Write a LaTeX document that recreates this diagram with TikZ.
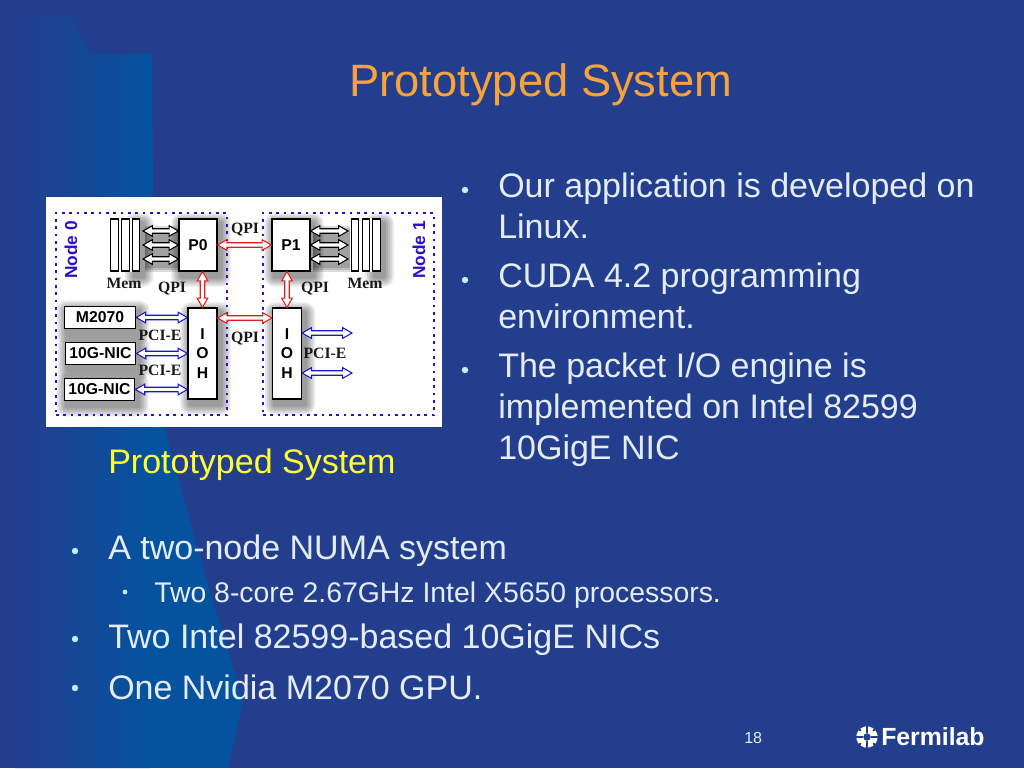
\documentclass[tikz,border=0pt]{standalone}
\usepackage{fontspec}
\setmainfont{Liberation Sans}
\newfontfamily\serifbold{Liberation Serif}
\usetikzlibrary{calc}
\pgfdeclarelayer{panel}
\pgfdeclarelayer{shadowlayer}
\pgfsetlayers{panel,shadowlayer,main}
\definecolor{bgblue}{HTML}{243E8E}
\definecolor{lightblue}{HTML}{05529F}
\definecolor{bodytext}{HTML}{E4ECF6}
\definecolor{bulletc}{HTML}{BFEFFF}
\definecolor{titlec}{HTML}{F8A23C}
\definecolor{capc}{HTML}{FFFF33}
\definecolor{nodeblue}{HTML}{2A10C8}
\definecolor{linkred}{HTML}{E02020}
\definecolor{linkblue}{HTML}{1818C8}
\newcommand{\fs}[1]{\fontsize{#1}{#1}\selectfont}
\tikzset{
  x=0.75pt,y=-0.75pt,
  body/.style={anchor=base west,inner sep=0pt,text=bodytext,font=\fs{25.5}},
  subbody/.style={anchor=base west,inner sep=0pt,text=bodytext,font=\fs{21.3}},
  dot/.style={circle,fill=bulletc,inner sep=0pt,minimum size=4.8pt},
  smalldot/.style={circle,fill=bulletc,inner sep=0pt,minimum size=3.6pt},
  box/.style={draw=black,line width=0.85pt,fill=white,inner sep=0pt,font=\bfseries\fs{11.8},align=center},
  bar/.style={draw=black,line width=0.85pt,fill=white,inner sep=0pt,minimum width=5.6pt,minimum height=39pt},
  lbl/.style={inner sep=0pt,font=\serifbold\bfseries\fs{11.8},text=black!90},
  nodelbl/.style={inner sep=0pt,rotate=90,font=\bfseries\fs{13},text=nodeblue},
  region/.style={draw=nodeblue,line width=1.1pt,dash pattern=on 2pt off 3.5pt},
  hollow/.style={fill=white,line width=0.8pt,line join=miter,to path={
    -- ($(\tikztostart)!7pt!(\tikztotarget)!4pt!90:(\tikztotarget)$)
    -- ($(\tikztostart)!7pt!(\tikztotarget)!1.7pt!90:(\tikztotarget)$)
    -- ($(\tikztotarget)!7pt!(\tikztostart)!1.7pt!-90:(\tikztostart)$)
    -- ($(\tikztotarget)!7pt!(\tikztostart)!4pt!-90:(\tikztostart)$)
    -- (\tikztotarget)
    -- ($(\tikztotarget)!7pt!(\tikztostart)!4pt!90:(\tikztostart)$)
    -- ($(\tikztotarget)!7pt!(\tikztostart)!1.7pt!90:(\tikztostart)$)
    -- ($(\tikztostart)!7pt!(\tikztotarget)!1.7pt!-90:(\tikztotarget)$)
    -- ($(\tikztostart)!7pt!(\tikztotarget)!4pt!-90:(\tikztotarget)$)
    -- cycle}},
  memlink/.style={hollow,draw=black},
  qpilink/.style={hollow,draw=linkred},
  pcilink/.style={hollow,draw=linkblue},
}
\newcommand{\softshadow}[1]{%
  \begin{pgfonlayer}{shadowlayer}
  \foreach \r in {10,8,6,4,2}{
    \fill[black,opacity=0.09,rounded corners=\r*0.75pt]
      ($(#1.north west)+(3-\r,5-\r)$) rectangle ($(#1.south east)+(3+\r,5+\r)$);
  }
  \end{pgfonlayer}}
\newcommand{\linkshadow}[2]{%
  \begin{pgfonlayer}{shadowlayer}
  \foreach \w in {18,14,10}{
    \draw[black,opacity=0.14,line width=\w*0.75pt] ($(#1)+(2,4)$) -- ($(#2)+(2,4)$);
  }
  \end{pgfonlayer}}
\begin{document}
\begin{tikzpicture}
\useasboundingbox (0,0) rectangle (1024,768);
\begin{pgfonlayer}{panel}
\fill[bgblue] (0,0) rectangle (1024,768);
\begin{scope}
  \clip (0,15) -- (70,15) -- (90,54) -- (152,54) -- (153,197) -- (165,430) -- (203,568) -- (243,700) -- (228,768) -- (0,768) -- cycle;
  \shade[left color=bgblue,right color=lightblue] (15,0) rectangle (150,768);
  \fill[lightblue] (149.5,0) rectangle (260,768);
\end{scope}
\fill[white] (46,197) rectangle (442,427);
\end{pgfonlayer}

% slide text
\node[anchor=base west,inner sep=0pt,text=titlec,font=\fs{34}] (title) at (349,96) {Prototyped System};

\node[dot] (b1) at (465,190) {};
\node[body] (t1a) at (498,197.5) {Our application is developed on};
\node[body] (t1b) at (498,238.5) {Linux.};
\node[dot] (b2) at (465,280) {};
\node[body] (t2a) at (498,287.5) {CUDA 4.2 programming};
\node[body] (t2b) at (498,328.5) {environment.};
\node[dot] (b3) at (465,370) {};
\node[body] (t3a) at (498,377.5) {The packet I/O engine is};
\node[body] (t3b) at (498,418.5) {implemented on Intel 82599};
\node[body] (t3c) at (498,459.5) {10GigE NIC};

\node[anchor=base west,inner sep=0pt,text=capc,font=\fs{25.5}] (cap) at (108,473.5) {Prototyped System};

\node[dot] (b4) at (75,551) {};
\node[body] (t4) at (108,559.5) {A two-node NUMA system};
\node[smalldot] (b5) at (125,592) {};
\node[subbody] (t5) at (154,602) {Two 8-core 2.67GHz Intel X5650 processors.};
\node[dot] (b6) at (75,639) {};
\node[body] (t6) at (108,648.5) {Two Intel 82599-based 10GigE NICs};
\node[dot] (b7) at (75,688) {};
\node[body] (t7) at (108,699.5) {One Nvidia M2070 GPU.};

\node[anchor=base west,inner sep=0pt,text=bodytext,font=\fs{12}] (page) at (744,743) {18};
\node[anchor=base west,inner sep=0pt,text=white,font=\bfseries\fs{18.6}] (lab) at (881,745) {Fermilab};
% logo
\coordinate (logo) at (867,737);
\foreach \a in {22.5,67.5,...,360}{
  \draw[white,line width=4pt] ($(logo)+(\a:6)$) -- ($(logo)+(\a:10.5)$);
}
\fill[white] (logo) circle[radius=6.4pt];
\draw[bgblue,line width=1pt] ($(logo)+(-12,0)$) -- ($(logo)+(-4,0)$) ($(logo)+(12,0)$) -- ($(logo)+(4,0)$)
  ($(logo)+(0,-12)$) -- ($(logo)+(0,-4)$) ($(logo)+(0,12)$) -- ($(logo)+(0,4)$);
\fill[bgblue] (logo) circle[radius=2.8pt];

% diagram regions
\node[region,minimum width=128.25pt,minimum height=151.5pt,inner sep=0pt] (node0) at (141.5,314) {};
\node[region,minimum width=128.25pt,minimum height=151.5pt,inner sep=0pt] (node1) at (348.5,314) {};
\node[nodelbl] (n0) at (71,250) {Node 0};
\node[nodelbl] (n1) at (419,250) {Node 1};

% boxes
\node[box,minimum width=28.5pt,minimum height=39pt] (P0) at (198,245) {P0};
\node[box,minimum width=28.5pt,minimum height=39pt] (P1) at (291,245) {P1};
\node[box,minimum width=21.8pt,minimum height=68.2pt] (IOH0) at (202.5,353.5) {I\\[3pt]O\\[3pt]H};
\node[box,minimum width=21.8pt,minimum height=68.2pt] (IOH1) at (287,353.5) {I\\[3pt]O\\[3pt]H};
\node[box,minimum width=53.5pt,minimum height=17pt] (gpu) at (100,317.5) {M2070};
\node[box,minimum width=53pt,minimum height=17pt] (nic1) at (100.5,353.5) {10G-NIC};
\node[box,minimum width=53pt,minimum height=17pt] (nic2) at (99.5,389.5) {10G-NIC};
\node[bar] (m01) at (114.5,245) {};
\node[bar] (m02) at (125.5,245) {};
\node[bar] (m03) at (136,245) {};
\node[bar] (m11) at (355,245) {};
\node[bar] (m12) at (366,245) {};
\node[bar] (m13) at (376.5,245) {};
\foreach \n in {P0,P1,IOH0,IOH1,gpu,nic1,nic2,m03,m13}{\softshadow{\n}}

% ends of the links
\coordinate (r1) at (352,333);
\coordinate (r2) at (352,373);
\coordinate (l0a) at (143,231); \coordinate (p0a) at (P0.west |- l0a);
\coordinate (l0b) at (143,245);
\coordinate (l0c) at (143,259); \coordinate (p0c) at (P0.west |- l0c);
\coordinate (l1a) at (348,231); \coordinate (p1a) at (P1.east |- l1a);
\coordinate (l1b) at (348,245);
\coordinate (l1c) at (348,259); \coordinate (p1c) at (P1.east |- l1c);
\coordinate (qa) at (IOH0.east |- 0,318); \coordinate (qb) at (IOH1.west |- 0,318);
\coordinate (va) at (IOH0.north |- P0.south);
\coordinate (vb) at (IOH1.north |- P1.south);
\coordinate (g0) at (IOH0.west |- gpu.east);
\coordinate (n10) at (IOH0.west |- nic1.east);
\coordinate (n20) at (IOH0.west |- nic2.east);
\coordinate (io1a) at (IOH1.east |- r1);
\coordinate (io1b) at (IOH1.east |- r2);

\foreach \a/\b in {l0a/p0a,l0b/P0.west,l0c/p0c,l1a/p1a,l1b/P1.east,l1c/p1c}{\linkshadow{\a}{\b}}
\begin{pgfonlayer}{shadowlayer}
  \fill[white] (m01.north west) rectangle (m03.south east);
  \fill[white] (m11.north west) rectangle (m13.south east);
\end{pgfonlayer}

\draw[memlink] (l0a) to (p0a);
\draw[memlink] (l0b) to (P0.west);
\draw[memlink] (l0c) to (p0c);
\draw[memlink] (l1a) to (p1a);
\draw[memlink] (l1b) to (P1.east);
\draw[memlink] (l1c) to (p1c);
\draw[qpilink] (P0.east) to (P1.west);
\draw[qpilink] (qa) to (qb);
\draw[qpilink] (va) to (IOH0.north);
\draw[qpilink] (vb) to (IOH1.north);
\draw[pcilink] (gpu.east) to (g0);
\draw[pcilink] (nic1.east) to (n10);
\draw[pcilink] (nic2.east) to (n20);
\draw[pcilink] (io1a) to (r1);
\draw[pcilink] (io1b) to (r2);

% labels
\node[lbl] (q1) at (245,229.5) {QPI};
\node[lbl] (q2) at (245,339) {QPI};
\node[lbl] (q3) at (172,289) {QPI};
\node[lbl] (q4) at (315,289) {QPI};
\node[lbl] (me0) at (124,283) {Mem};
\node[lbl] (me1) at (365,283) {Mem};
\node[lbl] (pc1) at (160,335) {PCI-E};
\node[lbl] (pc2) at (160,370) {PCI-E};
\node[lbl] (pc3) at (325,353) {PCI-E};
\end{tikzpicture}
\end{document}
